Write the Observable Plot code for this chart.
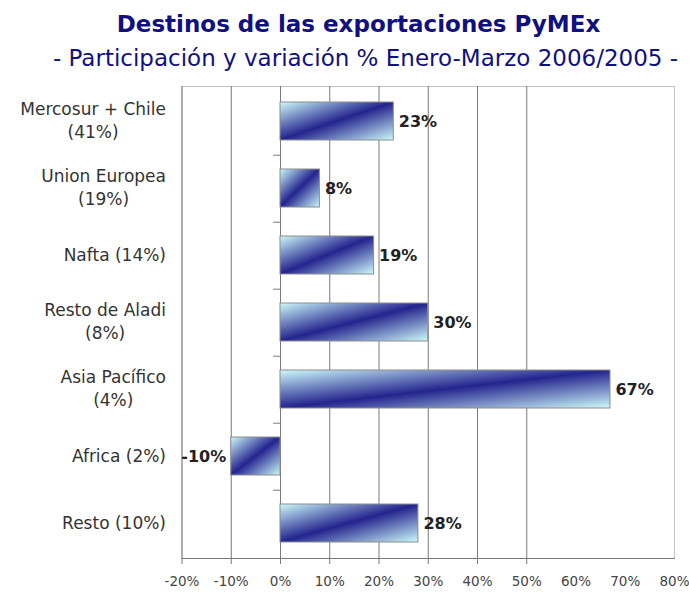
<!DOCTYPE html>
<html><head><meta charset="utf-8">
<script src="https://cdn.jsdelivr.net/npm/d3@7"></script>
<script src="https://cdn.jsdelivr.net/npm/@observablehq/plot@0.6"></script>
<style>
body{margin:0;background:#fff;width:689px;height:592px;position:relative;overflow:hidden}
.t{position:absolute;top:9px;left:14px;width:689px;text-align:center;font:bold 23px "DejaVu Sans";color:#10107f;line-height:30px;white-space:nowrap}
.s{position:absolute;top:43px;left:21px;width:689px;text-align:center;font:23px "DejaVu Sans";color:#10107f;line-height:30px;white-space:nowrap}
#chart{position:absolute;left:0;top:80px}
</style></head><body>
<div class="t">Destinos de las exportaciones PyMEx</div>
<div class="s">- Participación y variación % Enero-Marzo 2006/2005 -</div>
<div id="chart"></div>
<script>
const categories = ["Mercosur + Chile\n(41%)", "Union Europea\n(19%)", "Nafta (14%)", "Resto de Aladi\n(8%)", "Asia Pacífico\n(4%)", "Africa (2%)", "Resto (10%)"];
const values = [23, 8, 19, 30, 67, -10, 28];
const xTicks = [-20, -10, 0, 10, 20, 30, 40, 50, 60, 70, 80];
const gridLines = [-20, -10, 0, 10, 20, 30, 40, 50];
const tickMarks = [-20, -10, 0, 10, 20, 30, 40, 50];

const data = categories.map((c, i) => ({cat: c, v: values[i]}));
const plotHeight = 472;
const step = plotHeight / categories.length;

const chart = Plot.plot({
  width: 689, height: 512,
  marginTop: 6, marginBottom: 34, marginLeft: 181.5, marginRight: 15,
  x: {domain: [-20, 80], label: null},
  y: {domain: categories, paddingInner: 0.44, paddingOuter: 0.22, axis: null, label: null},
  style: {fontFamily: "DejaVu Sans", background: "white", overflow: "visible"},
  marks: [
    Plot.frame({stroke: "#c4c4c4"}),
    Plot.ruleX(gridLines, {stroke: "#7a7a7a", strokeOpacity: 1}),
    Plot.frame({anchor: "bottom", stroke: "#7a7a7a"}),
    Plot.axisX({ticks: tickMarks, tickSize: 6, tickFormat: () => "", stroke: "#7a7a7a", label: null}),
    Plot.axisX({ticks: xTicks, tickSize: 0, tickPadding: 18, tickFormat: d => d + "%", fontSize: 13.5, fill: "#444", label: null}),
    Plot.ruleY(categories.slice(0, -1), {x1: -1.4, x2: 0, dy: step / 2, stroke: "#7a7a7a"}),
    Plot.barX(data, {x: "v", y: "cat", fill: "url(#barGrad)", stroke: "#8c8c8c", strokeWidth: 1}),
    Plot.text(data.filter(d => d.v >= 0), {x: "v", y: "cat", text: d => d.v + "%", dx: 5, textAnchor: "start", fontWeight: "bold", fontSize: 16, fill: "#222"}),
    Plot.text(data.filter(d => d.v < 0), {x: "v", y: "cat", text: d => d.v + "%", dx: -5, textAnchor: "end", fontWeight: "bold", fontSize: 16, fill: "#222"}),
    Plot.text(data, {x: () => -20, y: "cat", text: "cat", dx: -16, dy: -2, textAnchor: "end", fontSize: 17, lineHeight: 1.36, fill: "#333"})
  ]
});
document.getElementById("chart").append(chart);

// gradient definition for bars
const svgns = "http://www.w3.org/2000/svg";
const defs = document.createElementNS(svgns, "defs");
defs.innerHTML = `<linearGradient id="barGrad" x1="0" y1="0" x2="1" y2="1">
  <stop offset="0" stop-color="#cdfafb"/>
  <stop offset="0.5" stop-color="#24248e"/>
  <stop offset="1" stop-color="#cdfafb"/>
</linearGradient>`;
chart.insertBefore(defs, chart.firstChild);

// center the second line of two-line category labels under the first
chart.querySelectorAll("text").forEach(t => {
  const spans = t.querySelectorAll("tspan");
  if (spans.length === 2) {
    const w1 = spans[0].getComputedTextLength();
    spans[1].setAttribute("x", -w1 / 2);
    spans[1].setAttribute("text-anchor", "middle");
  }
});
</script>
</body></html>
